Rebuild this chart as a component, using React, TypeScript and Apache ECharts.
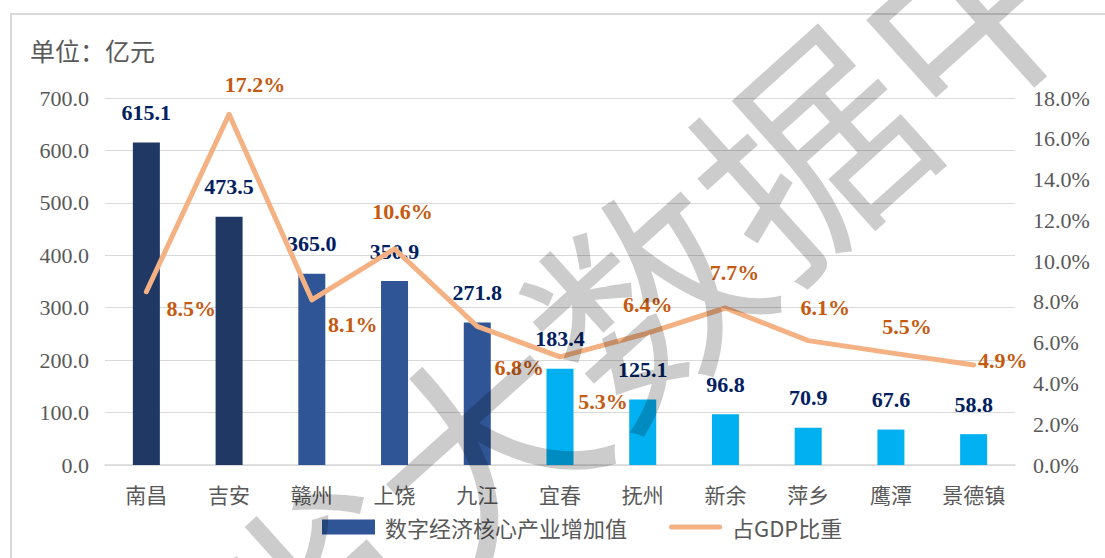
import React, { useEffect, useRef } from "react";
import * as echarts from "echarts";

const categories = ["南昌", "吉安", "赣州", "上饶", "九江", "宜春", "抚州", "新余", "萍乡", "鹰潭", "景德镇"];
const coreValues = [615.1, 473.5, 365.0, 350.9, 271.8, 183.4, 125.1, 96.8, 70.9, 67.6, 58.8];
const gdpShare = [8.5, 17.2, 8.1, 10.6, 6.8, 5.3, 6.4, 7.7, 6.1, 5.5, 4.9];
const leftAxis = { min: 0, max: 700, interval: 100 };
const rightAxis = { min: 0, max: 18, interval: 2 };
const barName = "数字经济核心产业增加值";
const lineName = "占GDP比重";
const unitText = "单位：亿元";
const watermarkText = "省大数据中心";

// styling (not data)
const barColors = ["#1F3864", "#1F3864", "#2F5597", "#2F5597", "#2F5597", "#00B0F0", "#00B0F0", "#00B0F0", "#00B0F0", "#00B0F0", "#00B0F0"];
const shareLabelOffsets = [
  [45, 17], [26, -30], [41, 25], [8, -37], [42, 41], [43, 45],
  [5, -30], [9, -36], [17, -33], [16, -26], [29, -5],
];

const SERIF = "'Liberation Serif', 'Times New Roman', serif";
const CJK = "'Noto Sans CJK SC', sans-serif";
const GREY = "#595959";

export default function App() {
  const ref = useRef<HTMLDivElement>(null);
  useEffect(() => {
    document.body.style.margin = "0";
    const chart = echarts.init(ref.current!, undefined, { renderer: "svg" });
    chart.setOption({
      animation: false,
      grid: { left: 105, right: 90, top: 98, bottom: 93 },
      legend: {
        left: 317,
        top: 511,
        itemWidth: 53,
        itemHeight: 15,
        itemGap: 42,
        textStyle: { fontFamily: CJK, fontSize: 22, color: GREY, padding: [0, 0, 0, 5] },
        data: [
          { name: barName, icon: "rect" },
          { name: lineName, icon: "path://M2.5,0H50.5A2.5,2.5,0,0,1,50.5,5H2.5A2.5,2.5,0,0,1,2.5,0Z" },
        ],
      },
      xAxis: {
        type: "category",
        data: categories,
        axisTick: { show: false },
        axisLine: { lineStyle: { color: "#D9D9D9", width: 1.5 } },
        axisLabel: { interval: 0, fontFamily: CJK, fontSize: 21, color: GREY, margin: 18 },
      },
      yAxis: [
        {
          type: "value",
          min: leftAxis.min,
          max: leftAxis.max,
          interval: leftAxis.interval,
          axisLine: { show: false },
          axisTick: { show: false },
          splitLine: { lineStyle: { color: "#D9D9D9", width: 1.2 } },
          axisLabel: {
            fontFamily: SERIF,
            fontSize: 22,
            color: GREY,
            margin: 16,
            formatter: (v: number) => v.toFixed(1),
          },
        },
        {
          type: "value",
          min: rightAxis.min,
          max: rightAxis.max,
          interval: rightAxis.interval,
          axisLine: { show: false },
          axisTick: { show: false },
          splitLine: { show: false },
          axisLabel: {
            fontFamily: SERIF,
            fontSize: 22,
            color: GREY,
            margin: 18,
            formatter: (v: number) => v.toFixed(1) + "%",
          },
        },
      ],
      series: [
        {
          name: barName,
          type: "bar",
          barWidth: 27,
          itemStyle: { color: "#2F5597" },
          data: coreValues.map((v, i) => ({ value: v, itemStyle: { color: barColors[i] } })),
          label: {
            show: true,
            position: "top",
            distance: 19,
            fontFamily: SERIF,
            fontWeight: "bold",
            fontSize: 22,
            color: "#002060",
            formatter: (p: any) => Number(p.value).toFixed(1),
          },
          z: 2,
        },
        {
          name: lineName,
          type: "line",
          yAxisIndex: 1,
          color: "#F4B183",
          symbol: "none",
          lineStyle: { color: "#F4B183", width: 5, cap: "round", join: "round" },
          itemStyle: { color: "#F4B183" },
          data: gdpShare,
          z: 3,
        },
        {
          name: "labels",
          type: "scatter",
          yAxisIndex: 1,
          symbolSize: 1,
          itemStyle: { color: "rgba(0,0,0,0)", opacity: 1 },
          silent: true,
          data: gdpShare.map((v, i) => ({
            value: v,
            label: { offset: shareLabelOffsets[i] },
          })),
          label: {
            show: true,
            position: "inside",
            fontFamily: SERIF,
            fontWeight: "bold",
            fontSize: 22,
            color: "#C55A11",
            opacity: 1,
            formatter: (p: any) => Number(p.value).toFixed(1) + "%",
          },
          z: 4,
        },
      ],
      graphic: [
        {
          type: "rect",
          z: -10,
          shape: { x: 11, y: 14, width: 1200, height: 700 },
          style: { fill: "none", stroke: "#D9D9D9", lineWidth: 2 },
          silent: true,
        },
        {
          type: "text",
          x: 30,
          y: 50,
          style: {
            text: unitText,
            fill: GREY,
            font: `25px ${CJK}`,
            textAlign: "left",
            textVerticalAlign: "middle",
          },
        },
        {
          type: "text",
          x: 720,
          y: 218,
          rotation: (42 * Math.PI) / 180,
          z: 100,
          silent: true,
          style: {
            text: watermarkText,
            fill: "rgba(0,0,0,0.2)",
            font: `220px ${CJK}`,
            textAlign: "center",
            textVerticalAlign: "middle",
          },
        },
      ],
    });
    return () => chart.dispose();
  }, []);
  return <div ref={ref} style={{ width: 1105, height: 558 }} />;
}
